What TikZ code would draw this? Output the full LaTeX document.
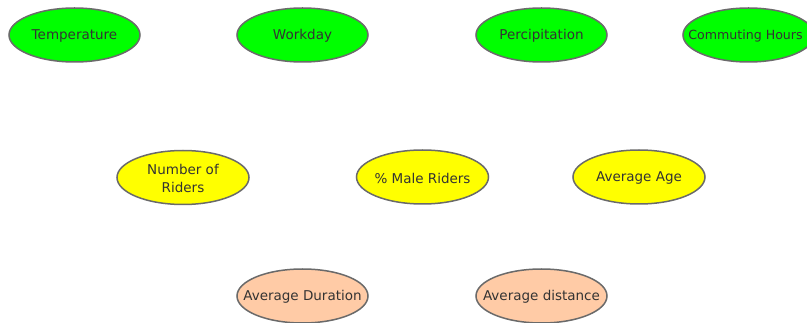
\documentclass[tikz,border=0pt]{standalone}
\usepackage{fontspec}
\setmainfont{DejaVu Sans}
\usetikzlibrary{shapes.geometric}
\definecolor{factor}{HTML}{00FF00}
\definecolor{measure}{HTML}{FFFF00}
\definecolor{outcome}{HTML}{FFCBA6}
\definecolor{rim}{HTML}{6A6A6A}
\definecolor{ink}{HTML}{333333}
\tikzset{
  bubble/.style={ellipse, draw=rim, line width=1.5pt, minimum width=131pt,
    minimum height=54pt, inner sep=0pt},
  caption/.style={text=ink, align=center, yshift=-1pt,
    font=\fontsize{13.5}{18}\selectfont},
  factorbubble/.style={bubble, fill=factor},
  measurebubble/.style={bubble, fill=measure, minimum width=132pt},
  outcomebubble/.style={bubble, fill=outcome},
}
\begin{document}
\begin{tikzpicture}[x=1pt,y=-1pt]
  \useasboundingbox (0,0) rectangle (807,323);
  \clip (0,0) rectangle (807,323);
  \fill[white] (0,0) rectangle (807,323);
  % top row: external factors
  \node[factorbubble, label={[caption]center:Temperature}] (temp) at (74.5,35) {};
  \node[factorbubble, label={[caption]center:Workday}] (work) at (302.5,35) {};
  \node[factorbubble, label={[caption]center:Percipitation}] (prec) at (541.5,35) {};
  \node[factorbubble, label={[caption, xshift=-3pt,
    font=\fontsize{12.6}{18}\selectfont]center:Commuting Hours}] (comm) at (748.5,35) {};
  % middle row: rider measures
  \node[measurebubble, label={[caption]center:Number of\\Riders}] (riders) at (183,177.5) {};
  \node[measurebubble, label={[caption]center:\% Male Riders}] (male) at (422.5,177) {};
  \node[measurebubble, label={[caption]center:Average Age}] (age) at (639,177) {};
  % bottom row: trip outcomes
  \node[outcomebubble, label={[caption]center:Average Duration}] (dur) at (302.5,296) {};
  \node[outcomebubble, label={[caption]center:Average distance}] (dist) at (541.5,296) {};
\end{tikzpicture}
\end{document}
